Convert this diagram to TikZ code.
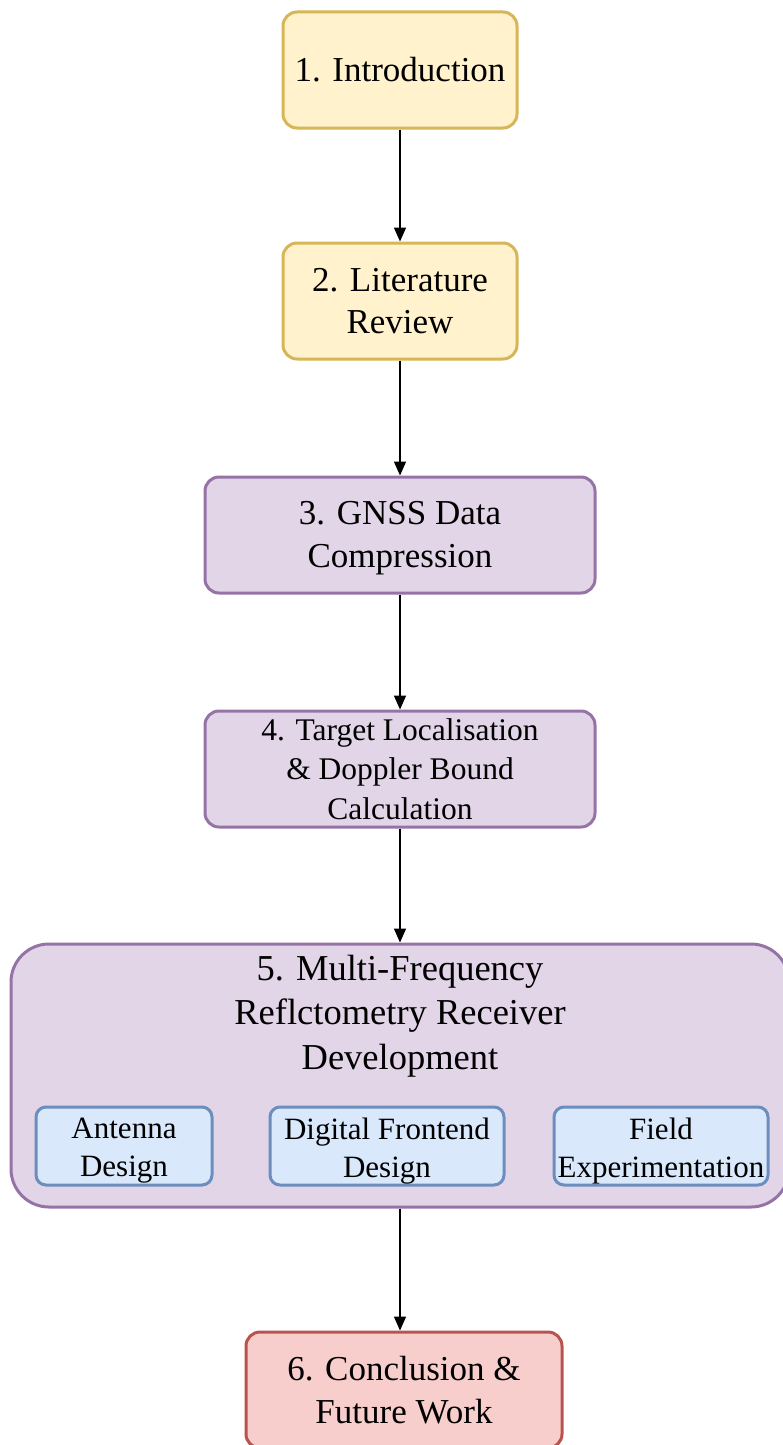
\documentclass[tikz,border=0pt]{standalone}
\usepackage{fontspec}
\setmainfont{Liberation Serif}
\usetikzlibrary{arrows.meta}
\definecolor{ylwfill}{HTML}{FFF2CC}
\definecolor{ylwline}{HTML}{D6B656}
\definecolor{prpfill}{HTML}{E1D5E7}
\definecolor{prpline}{HTML}{9673A6}
\definecolor{blufill}{HTML}{DAE8FC}
\definecolor{bluline}{HTML}{6C8EBF}
\definecolor{redfill}{HTML}{F8CECC}
\definecolor{redline}{HTML}{B85450}
\tikzset{
  stage/.style={rectangle, rounded corners=14pt, line width=3pt, align=center,
    inner sep=0pt, font=\fontsize{35}{42.5}\selectfont},
  yellowbox/.style={stage, draw=ylwline, fill=ylwfill},
  purplebox/.style={stage, draw=prpline, fill=prpfill},
  redbox/.style={stage, draw=redline, fill=redfill},
  subbox/.style={rectangle, rounded corners=10pt, line width=3pt,
    inner sep=0pt, draw=bluline, fill=blufill, minimum height=78pt},
  subtext/.style={align=center, inner sep=0pt, font=\fontsize{31}{38}\selectfont},
  flow/.style={line width=1.6pt, -{Triangle[length=14pt,width=12pt]}},
}
\begin{document}
\begin{tikzpicture}[x=1pt,y=-1pt]
\useasboundingbox (0,0) rectangle (782,1445);

\node[yellowbox, minimum width=234pt, minimum height=116pt] (intro) at (400,70) {1. Introduction};
\node[yellowbox, minimum width=234pt, minimum height=116pt] (lit) at (400,301) {2. Literature\\Review};
\node[purplebox, minimum width=390pt, minimum height=116pt] (gnss) at (400,535) {};
\node[align=center, inner sep=0pt, font=\fontsize{35}{42.5}\selectfont] (gnsstext) at (400,538)
  {3. GNSS Data\\Compression};
\node[purplebox, minimum width=390pt, minimum height=116pt,
      font=\fontsize{31.5}{39.5}\selectfont] (target) at (400,769)
  {4. Target Localisation\\\& Doppler Bound\\Calculation};

% receiver development stage with its three work packages
\node[purplebox, rounded corners=38pt, minimum width=778pt, minimum height=263pt] (recv) at (400,1075.5) {};
\node[align=center, inner sep=0pt, font=\fontsize{36.5}{44.5}\selectfont] (recvtitle) at (400,1016)
  {5. Multi-Frequency\\Reflctometry Receiver\\Development};
\node[subbox, minimum width=176pt] (antenna) at (124,1146) {};
\node[subbox, minimum width=234pt] (frontend) at (387,1146) {};
\node[subbox, minimum width=214pt] (field) at (661,1146) {};
\node[subtext] (antennatext) at (124,1151) {Antenna\\Design};
\node[subtext] (frontendtext) at (387,1151) {Digital Frontend\\Design};
\node[subtext] (fieldtext) at (661,1151) {Field\\Experimentation};

\node[redbox, minimum width=316pt, minimum height=116pt] (concl) at (404,1390) {6. Conclusion \&\\Future Work};

\draw[flow] (intro.south) -- (lit.north);
\draw[flow] (lit.south) -- (gnss.north);
\draw[flow] (gnss.south) -- (target.north);
\draw[flow] (target.south) -- (recv.north);
\draw[flow] (recv.south) -- (recv.south |- concl.north);
\end{tikzpicture}
\end{document}
